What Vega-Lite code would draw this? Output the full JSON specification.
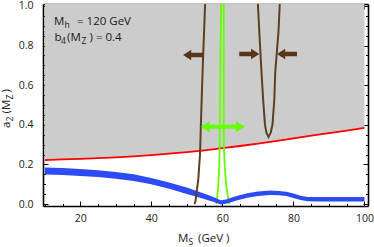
{
  "$schema": "https://vega.github.io/schema/vega-lite/v6.json",
  "width": 325,
  "height": 202,
  "autosize": "none",
  "padding": {"left": 43, "top": 4, "right": 6, "bottom": 41},
  "config": {
    "view": {"stroke": null},
    "font": "Open Sans",
    "axis": {"domainColor": "#000000", "domainWidth": 1.6, "tickColor": "#000000", "tickWidth": 1, "labelFont": "Open Sans", "labelFontSize": 10.5, "labelColor": "#1a1a1a", "grid": false, "zindex": 1, "title": null}
  },
  "datasets": {
    "red": [
      {"x": 10, "y": 0.222}, {"x": 15, "y": 0.225}, {"x": 20, "y": 0.228}, {"x": 25, "y": 0.232},
      {"x": 30, "y": 0.236}, {"x": 35, "y": 0.241}, {"x": 40, "y": 0.247}, {"x": 45, "y": 0.254},
      {"x": 50, "y": 0.262}, {"x": 55, "y": 0.271}, {"x": 60, "y": 0.282}, {"x": 65, "y": 0.293},
      {"x": 70, "y": 0.305}, {"x": 75, "y": 0.318}, {"x": 80, "y": 0.332}, {"x": 85, "y": 0.345},
      {"x": 90, "y": 0.358}, {"x": 95, "y": 0.371}, {"x": 100, "y": 0.385}
    ],
    "blue": [
      {"x": 10, "lo": 0.149, "hi": 0.185}, {"x": 15, "lo": 0.146, "hi": 0.182},
      {"x": 20, "lo": 0.141, "hi": 0.177}, {"x": 25, "lo": 0.136, "hi": 0.170},
      {"x": 30, "lo": 0.128, "hi": 0.162}, {"x": 35, "lo": 0.116, "hi": 0.150},
      {"x": 40, "lo": 0.100, "hi": 0.132}, {"x": 45, "lo": 0.077, "hi": 0.109},
      {"x": 50, "lo": 0.051, "hi": 0.083}, {"x": 53, "lo": 0.036, "hi": 0.064},
      {"x": 56, "lo": 0.019, "hi": 0.045}, {"x": 58, "lo": 0.008, "hi": 0.032},
      {"x": 59.5, "lo": -0.003, "hi": 0.019}, {"x": 61, "lo": 0.001, "hi": 0.023},
      {"x": 62, "lo": 0.007, "hi": 0.029}, {"x": 64, "lo": 0.018, "hi": 0.040},
      {"x": 67, "lo": 0.032, "hi": 0.054}, {"x": 70, "lo": 0.041, "hi": 0.063},
      {"x": 73.5, "lo": 0.046, "hi": 0.068}, {"x": 76, "lo": 0.044, "hi": 0.066},
      {"x": 78, "lo": 0.040, "hi": 0.062}, {"x": 80, "lo": 0.031, "hi": 0.053},
      {"x": 82, "lo": 0.020, "hi": 0.042}, {"x": 84, "lo": 0.014, "hi": 0.036},
      {"x": 87, "lo": 0.013, "hi": 0.035}, {"x": 100, "lo": 0.013, "hi": 0.035}
    ],
    "brownA": [
      {"i": 0, "x": 52.1, "y": 0.0}, {"i": 1, "x": 52.35, "y": 0.008}, {"i": 2, "x": 52.55, "y": 0.03},
      {"i": 3, "x": 52.75, "y": 0.06}, {"i": 4, "x": 53.2, "y": 0.12}, {"i": 5, "x": 53.7, "y": 0.25},
      {"i": 6, "x": 53.95, "y": 0.40}, {"i": 7, "x": 54.3, "y": 0.60}, {"i": 8, "x": 54.65, "y": 0.78},
      {"i": 9, "x": 55.15, "y": 1.01}
    ],
    "brownU": [
      {"i": 0, "x": 70.0, "y": 1.01}, {"i": 1, "x": 70.4, "y": 0.87}, {"i": 2, "x": 71.0, "y": 0.67},
      {"i": 3, "x": 71.5, "y": 0.52}, {"i": 4, "x": 72.0, "y": 0.40}, {"i": 5, "x": 72.4, "y": 0.36},
      {"i": 6, "x": 73.0, "y": 0.338}, {"i": 7, "x": 73.6, "y": 0.36}, {"i": 8, "x": 74.1, "y": 0.40},
      {"i": 9, "x": 74.6, "y": 0.52}, {"i": 10, "x": 74.9, "y": 0.67}, {"i": 11, "x": 75.8, "y": 0.87},
      {"i": 12, "x": 76.15, "y": 1.01}
    ],
    "green": [
      {"b": "L", "i": 0, "x": 59.65, "y": 1.01}, {"b": "L", "i": 1, "x": 59.5, "y": 0.8},
      {"b": "L", "i": 2, "x": 59.35, "y": 0.55}, {"b": "L", "i": 3, "x": 59.25, "y": 0.3},
      {"b": "L", "i": 4, "x": 59.1, "y": 0.18}, {"b": "L", "i": 5, "x": 58.8, "y": 0.08},
      {"b": "L", "i": 6, "x": 58.3, "y": 0.0},
      {"b": "R", "i": 0, "x": 60.4, "y": 1.01}, {"b": "R", "i": 1, "x": 60.4, "y": 0.8},
      {"b": "R", "i": 2, "x": 60.38, "y": 0.55}, {"b": "R", "i": 3, "x": 60.42, "y": 0.3},
      {"b": "R", "i": 4, "x": 60.7, "y": 0.18}, {"b": "R", "i": 5, "x": 61.1, "y": 0.09},
      {"b": "R", "i": 6, "x": 61.6, "y": 0.03}, {"b": "R", "i": 7, "x": 62.0, "y": 0.0}
    ],
    "arrows": [
      {"x": 51.73, "y": 0.7525, "dir": "left"},
      {"x": 67.58, "y": 0.7576, "dir": "right"},
      {"x": 78.19, "y": 0.7576, "dir": "left"}
    ],
    "garrow": [{"x": 60.13, "y": 0.39}],
    "one": [{"k": 1}]
  },
  "layer": [
    {
      "layer": [
        {
          "data": {"name": "red"},
          "mark": {"type": "area", "color": "#cccccc"},
          "encoding": {
            "x": {"field": "x", "type": "quantitative", "scale": {"domain": [9.5, 101], "nice": false, "zero": false},
              "axis": {"orient": "bottom", "title": null, "values": [20, 40, 60, 80, 100], "format": "d", "labelOverlap": false, "labelFlush": false,
                "tickSize": -5, "labelPadding": 12}},
            "y": {"field": "y", "type": "quantitative", "scale": {"domain": [-0.01, 1.01], "nice": false, "zero": false},
              "axis": {"orient": "left", "title": null, "values": [0, 0.2, 0.4, 0.6, 0.8, 1], "format": ".1f", "labelOverlap": false, "labelFlush": false,
                "tickSize": -5, "labelPadding": 15}},
            "y2": {"datum": 1.01}
          }
        },
        {
          "data": {"name": "red"},
          "mark": {"type": "line", "color": "#ff0000", "strokeWidth": 1.8},
          "encoding": {"x": {"field": "x", "type": "quantitative"}, "y": {"field": "y", "type": "quantitative"}}
        },
        {
          "data": {"name": "green"},
          "mark": {"type": "line", "color": "#66ff00", "strokeWidth": 1.8},
          "encoding": {"x": {"field": "x", "type": "quantitative"}, "y": {"field": "y", "type": "quantitative"}, "detail": {"field": "b"}, "order": {"field": "i"}}
        },
        {
          "data": {"name": "blue"},
          "mark": {"type": "area", "color": "#2d4bf5", "opacity": 1},
          "encoding": {"x": {"field": "x", "type": "quantitative"}, "y": {"field": "lo", "type": "quantitative"}, "y2": {"field": "hi"}}
        },
        {
          "data": {"name": "brownA"},
          "mark": {"type": "line", "color": "#5e3f22", "strokeWidth": 2},
          "encoding": {"x": {"field": "x", "type": "quantitative"}, "y": {"field": "y", "type": "quantitative"}, "order": {"field": "i"}}
        },
        {
          "data": {"name": "brownU"},
          "mark": {"type": "line", "color": "#5e3f22", "strokeWidth": 2},
          "encoding": {"x": {"field": "x", "type": "quantitative"}, "y": {"field": "y", "type": "quantitative"}, "order": {"field": "i"}}
        },
        {
          "data": {"name": "arrows"},
          "mark": {"type": "point", "filled": true, "opacity": 1, "size": 400, "color": "#573718", "strokeWidth": 0},
          "encoding": {
            "x": {"field": "x", "type": "quantitative"}, "y": {"field": "y", "type": "quantitative"},
            "shape": {"field": "dir", "type": "nominal", "legend": null,
              "scale": {"domain": ["left", "right"], "range": ["M-1,0L-0.18,-0.52L-0.18,-0.23L1,-0.23L1,0.23L-0.18,0.23L-0.18,0.52Z", "M1,0L0.18,-0.52L0.18,-0.23L-1,-0.23L-1,0.23L0.18,0.23L0.18,0.52Z"]}}
          }
        },
        {
          "data": {"name": "garrow"},
          "mark": {"type": "point", "filled": true, "opacity": 1, "size": 1962, "color": "#66ff00", "strokeWidth": 0,
            "shape": "M-1,0L-0.594,-0.248L-0.594,-0.09L0.594,-0.09L0.594,-0.248L1,0L0.594,0.248L0.594,0.09L-0.594,0.09L-0.594,0.248Z"},
          "encoding": {"x": {"field": "x", "type": "quantitative"}, "y": {"field": "y", "type": "quantitative"}}
        },
        {"data": {"name": "one"}, "mark": {"type": "text", "text": "M", "align": "left", "baseline": "alphabetic", "dx": 11, "fontSize": 11.5, "color": "#1a1a1a"},
          "encoding": {"x": {"datum": 9.5, "type": "quantitative"}, "y": {"datum": 0.904, "type": "quantitative"}}},
        {"data": {"name": "one"}, "mark": {"type": "text", "text": "h", "align": "left", "baseline": "alphabetic", "dx": 21.5, "dy": 3, "fontSize": 8.5, "color": "#1a1a1a"},
          "encoding": {"x": {"datum": 9.5, "type": "quantitative"}, "y": {"datum": 0.904, "type": "quantitative"}}},
        {"data": {"name": "one"}, "mark": {"type": "text", "text": "= 120 GeV", "align": "left", "baseline": "alphabetic", "dx": 34, "fontSize": 11.5, "color": "#1a1a1a"},
          "encoding": {"x": {"datum": 9.5, "type": "quantitative"}, "y": {"datum": 0.904, "type": "quantitative"}}},
        {"data": {"name": "one"}, "mark": {"type": "text", "text": "b", "align": "left", "baseline": "alphabetic", "dx": 11.5, "fontSize": 11.5, "color": "#1a1a1a"},
          "encoding": {"x": {"datum": 9.5, "type": "quantitative"}, "y": {"datum": 0.823, "type": "quantitative"}}},
        {"data": {"name": "one"}, "mark": {"type": "text", "text": "4", "align": "left", "baseline": "alphabetic", "dx": 18, "dy": 3, "fontSize": 8.5, "color": "#1a1a1a"},
          "encoding": {"x": {"datum": 9.5, "type": "quantitative"}, "y": {"datum": 0.823, "type": "quantitative"}}},
        {"data": {"name": "one"}, "mark": {"type": "text", "text": "(M", "align": "left", "baseline": "alphabetic", "dx": 24, "fontSize": 11.5, "color": "#1a1a1a"},
          "encoding": {"x": {"datum": 9.5, "type": "quantitative"}, "y": {"datum": 0.823, "type": "quantitative"}}},
        {"data": {"name": "one"}, "mark": {"type": "text", "text": "Z", "align": "left", "baseline": "alphabetic", "dx": 38.5, "dy": 3, "fontSize": 8.5, "color": "#1a1a1a"},
          "encoding": {"x": {"datum": 9.5, "type": "quantitative"}, "y": {"datum": 0.823, "type": "quantitative"}}},
        {"data": {"name": "one"}, "mark": {"type": "text", "text": ") = 0.4", "align": "left", "baseline": "alphabetic", "dx": 46.5, "fontSize": 11.5, "color": "#1a1a1a"},
          "encoding": {"x": {"datum": 9.5, "type": "quantitative"}, "y": {"datum": 0.823, "type": "quantitative"}}},
        {"data": {"name": "one"}, "mark": {"type": "text", "text": "M", "align": "left", "baseline": "alphabetic", "dx": 135, "fontSize": 11.5, "color": "#1a1a1a"},
          "encoding": {"x": {"datum": 9.5, "type": "quantitative"}, "y": {"datum": -0.193, "type": "quantitative"}}},
        {"data": {"name": "one"}, "mark": {"type": "text", "text": "S", "align": "left", "baseline": "alphabetic", "dx": 145.5, "dy": 2.5, "fontSize": 8.5, "color": "#1a1a1a"},
          "encoding": {"x": {"datum": 9.5, "type": "quantitative"}, "y": {"datum": -0.193, "type": "quantitative"}}},
        {"data": {"name": "one"}, "mark": {"type": "text", "text": "(GeV )", "align": "left", "baseline": "alphabetic", "dx": 155, "fontSize": 11.5, "color": "#1a1a1a"},
          "encoding": {"x": {"datum": 9.5, "type": "quantitative"}, "y": {"datum": -0.193, "type": "quantitative"}}},
        {"data": {"name": "one"}, "mark": {"type": "text", "text": "a", "align": "left", "baseline": "alphabetic", "angle": 270, "dx": 0, "fontSize": 11.5, "color": "#1a1a1a"},
          "encoding": {"x": {"datum": 0.2, "type": "quantitative"}, "y": {"datum": 0.384, "type": "quantitative"}}},
        {"data": {"name": "one"}, "mark": {"type": "text", "text": "2", "align": "left", "baseline": "alphabetic", "angle": 270, "dx": 6.5, "dy": 3, "fontSize": 8.5, "color": "#1a1a1a"},
          "encoding": {"x": {"datum": 0.2, "type": "quantitative"}, "y": {"datum": 0.384, "type": "quantitative"}}},
        {"data": {"name": "one"}, "mark": {"type": "text", "text": "(M", "align": "left", "baseline": "alphabetic", "angle": 270, "dx": 14.5, "fontSize": 11.5, "color": "#1a1a1a"},
          "encoding": {"x": {"datum": 0.2, "type": "quantitative"}, "y": {"datum": 0.384, "type": "quantitative"}}},
        {"data": {"name": "one"}, "mark": {"type": "text", "text": "Z", "align": "left", "baseline": "alphabetic", "angle": 270, "dx": 28.5, "dy": 3, "fontSize": 8.5, "color": "#1a1a1a"},
          "encoding": {"x": {"datum": 0.2, "type": "quantitative"}, "y": {"datum": 0.384, "type": "quantitative"}}},
        {"data": {"name": "one"}, "mark": {"type": "text", "text": ")", "align": "left", "baseline": "alphabetic", "angle": 270, "dx": 35.5, "fontSize": 11.5, "color": "#1a1a1a"},
          "encoding": {"x": {"datum": 0.2, "type": "quantitative"}, "y": {"datum": 0.384, "type": "quantitative"}}}
      ]
    },
    {
      "data": {"name": "red"},
      "mark": {"type": "point", "opacity": 0},
      "encoding": {
        "x": {"field": "x", "type": "quantitative", "scale": {"domain": [9.5, 101], "nice": false, "zero": false},
          "axis": {"orient": "top", "title": null, "labels": false, "values": [20, 40, 60, 80, 100], "tickSize": -5}},
        "y": {"field": "y", "type": "quantitative", "scale": {"domain": [-0.01, 1.01], "nice": false, "zero": false},
          "axis": {"orient": "right", "title": null, "labels": false, "values": [0, 0.2, 0.4, 0.6, 0.8, 1], "tickSize": -5}}
      }
    },
    {
      "data": {"name": "red"},
      "mark": {"type": "point", "opacity": 0},
      "encoding": {
        "x": {"field": "x", "type": "quantitative", "scale": {"domain": [9.5, 101], "nice": false, "zero": false},
          "axis": {"orient": "bottom", "title": null, "labels": false, "domain": false, "values": [10, 15, 25, 30, 35, 45, 50, 55, 65, 70, 75, 85, 90, 95], "tickSize": -2.5}},
        "y": {"field": "y", "type": "quantitative", "scale": {"domain": [-0.01, 1.01], "nice": false, "zero": false},
          "axis": {"orient": "left", "title": null, "labels": false, "domain": false, "values": [0.05, 0.1, 0.15, 0.25, 0.3, 0.35, 0.45, 0.5, 0.55, 0.65, 0.7, 0.75, 0.85, 0.9, 0.95], "tickSize": -2.5}}
      }
    },
    {
      "data": {"name": "red"},
      "mark": {"type": "point", "opacity": 0},
      "encoding": {
        "x": {"field": "x", "type": "quantitative", "scale": {"domain": [9.5, 101], "nice": false, "zero": false},
          "axis": {"orient": "top", "title": null, "labels": false, "domain": false, "values": [10, 15, 25, 30, 35, 45, 50, 55, 65, 70, 75, 85, 90, 95], "tickSize": -2.5}},
        "y": {"field": "y", "type": "quantitative", "scale": {"domain": [-0.01, 1.01], "nice": false, "zero": false},
          "axis": {"orient": "right", "title": null, "labels": false, "domain": false, "values": [0.05, 0.1, 0.15, 0.25, 0.3, 0.35, 0.45, 0.5, 0.55, 0.65, 0.7, 0.75, 0.85, 0.9, 0.95], "tickSize": -2.5}}
      }
    }
  ],
  "resolve": {"axis": {"x": "independent", "y": "independent"}}
}
